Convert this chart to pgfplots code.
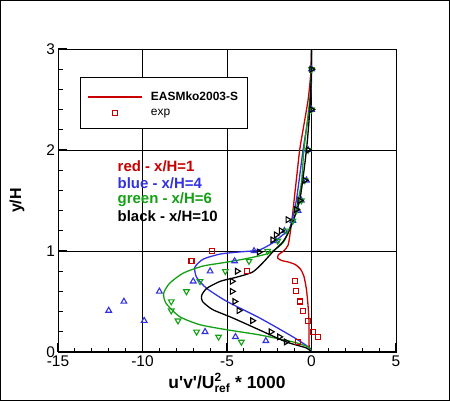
\documentclass[border=0pt]{standalone}
\usepackage{pgfplots}
\pgfplotsset{compat=1.18}
\usepackage{fontspec}
\setmainfont{Liberation Sans}
\definecolor{cred}{RGB}{200,0,0}
\definecolor{cblue}{RGB}{50,50,225}
\definecolor{cgreen}{RGB}{20,160,20}
\pgfplotsset{
  lineleg/.style={legend image code/.code={\draw[##1, draw=cred, line width=1.6bp, solid] (0bp,-2bp) -- (54bp,-2bp);}},
  markleg/.style={legend image code/.code={\draw[##1] plot coordinates {(27bp,-2.5bp)};}},
}
\begin{document}
\begin{tikzpicture}[x=1bp,y=1bp]
\useasboundingbox (0,0) rectangle (450,401);
\draw[line width=1bp] (0.5,0.5) rectangle (449.5,400.5);
\begin{axis}[
  at={(58bp,49bp)}, anchor=south west,
  scale only axis, width=338bp, height=303bp,
  xmin=-15, xmax=5, ymin=0, ymax=3,
  xtick={-15,-10,-5,0,5}, ytick={0,1,2,3},
  minor x tick num=4, minor y tick num=4,
  xtick pos=bottom, ytick pos=left,
  grid=major,
  major grid style={black, line width=0.8bp},
  axis line style={black, line width=0.8bp},
  tick style={black},
  major tick length=9bp, minor tick length=4.5bp,
  every major tick/.append style={line width=1.4bp},
  every minor tick/.append style={line width=0.9bp},
  /pgf/number format/assume math mode=true,
  tick label style={font=\fontsize{15.5}{18}\selectfont},
  xticklabel style={yshift=-0.5bp},
  yticklabel style={xshift=0.5bp},
  xlabel={\textbf{u\textquotesingle v\textquotesingle/U$_{\mbox{\fontsize{12}{13}\selectfont\bfseries ref}}^{\mbox{\fontsize{12}{13}\selectfont\bfseries 2}}$ * 1000}},
  ylabel={\textbf{y/H}},
  xlabel style={font=\fontsize{17.5}{20}\selectfont, at={(axis description cs:0.5,-0.102)}, anchor=center},
  ylabel style={font=\fontsize{16}{18}\selectfont, at={(axis description cs:-0.121,0.5)}, anchor=center},
  legend style={at={(axis description cs:0.065,0.908)}, anchor=north west,
    draw=black, line width=0.8bp, inner xsep=7bp, inner ysep=10.5bp,
    font=\fontsize{12}{14}\selectfont,
    nodes={inner xsep=2bp, inner ysep=1.5bp, text height=11.5bp, text depth=0.5bp},
    column sep=6bp, row sep=0pt},
  legend cell align=left,
]
% ---- model curves
\addplot[cred, line width=1.3bp, smooth, tension=0.4, lineleg] coordinates {
(0,0) (-0.12,0.03) (-0.15,0.1) (-0.15,0.3) (-0.2,0.45) (-0.3,0.62) (-0.45,0.75)
(-0.65,0.82) (-0.95,0.865) (-1.35,0.89) (-1.75,0.905) (-2.0,0.93) (-1.95,0.965)
(-1.65,1.0) (-1.38,1.06) (-1.22,1.23) (-1.1,1.39) (-1.0,1.55) (-0.9,1.7)
(-0.7,2.0) (-0.5,2.2) (-0.2,2.5) (-0.05,2.75) (0,3)};
\addlegendentry{\textbf{EASMko2003-S}}
\addplot[cblue, line width=1.3bp, smooth, tension=0.4, forget plot] coordinates {
(0,0) (-0.1,0.04) (-1.1,0.15) (-3.1,0.34) (-5.0,0.50) (-6.2,0.63) (-6.8,0.74)
(-6.9,0.84) (-6.4,0.92) (-5.4,0.97) (-4.3,0.99) (-3.1,1.01) (-2.3,1.08)
(-1.7,1.16) (-1.3,1.22) (-0.9,1.5) (-0.5,2.0) (-0.1,2.43) (0,2.7) (0,3)};
\addplot[cgreen, line width=1.3bp, smooth, tension=0.4, forget plot] coordinates {
(0,0) (-0.2,0.05) (-1.1,0.10) (-3.1,0.17) (-5.0,0.22) (-6.6,0.27) (-7.8,0.35)
(-8.6,0.48) (-8.75,0.58) (-8.4,0.68) (-7.6,0.78) (-6.45,0.85) (-5.0,0.89)
(-3.7,0.93) (-2.5,0.98) (-1.7,1.08) (-1.3,1.21) (-1.0,1.34) (-0.6,1.67)
(-0.45,2.0) (-0.1,2.5) (0,2.8) (0,3)};
\addplot[black, line width=1.3bp, smooth, tension=0.4, forget plot] coordinates {
(0,0) (-0.3,0.04) (-1.5,0.10) (-3.1,0.22) (-4.7,0.34) (-5.85,0.42) (-6.45,0.50)
(-6.5,0.56) (-6.2,0.63) (-5.4,0.70) (-4.45,0.74) (-3.5,0.79) (-2.9,0.88)
(-2.3,0.99) (-1.7,1.09) (-1.3,1.21) (-0.7,1.5) (-0.3,2.0) (-0.1,2.4) (0,2.8) (0,3)};
% ---- experiments
\addplot[cred, only marks, mark=square, mark size=2.5bp, mark options={line width=1.1bp, solid}, markleg] coordinates {
(-0.8,0.10) (0.4,0.15) (0.1,0.20) (-0.2,0.31) (-0.5,0.41) (-0.7,0.50) (-0.9,0.60)
(-1.0,0.70) (-3.8,0.80) (-7.1,0.90) (-5.9,1.00)};
\addlegendentry{exp}
\addplot[cblue, only marks, mark=triangle, mark size=3.3bp, mark options={line width=1.1bp, solid}, forget plot] coordinates {
(-2.7,0.11) (-4.5,0.15) (-6.3,0.20) (-9.9,0.31) (-12.0,0.41) (-11.1,0.50) (-9.0,0.60)
(-7.0,0.70) (-6.0,0.80) (-4.55,0.90) (-3.4,1.0) (-2.1,1.1) (-1.6,1.2) (-1.1,1.3)
(-0.8,1.4) (-0.6,1.5) (-0.3,1.7) (-0.2,2.0) (0,2.4) (0,2.8)};
\addplot[cgreen, only marks, mark=triangle, mark size=3.3bp, mark options={line width=1.1bp, solid, rotate=180}, forget plot] coordinates {
(-4.15,0.10) (-5.5,0.15) (-6.8,0.20) (-7.9,0.31) (-8.3,0.41) (-8.3,0.50) (-7.4,0.60)
(-6.6,0.70) (-5.1,0.80) (-3.7,0.90) (-2.6,1.0) (-2.0,1.1) (-1.5,1.2) (-1.1,1.3)
(-0.9,1.4) (-0.6,1.5) (-0.4,1.7) (-0.2,2.0) (0,2.4) (0,2.8)};
\addplot[black, only marks, mark=triangle, mark size=3.3bp, mark options={line width=1.1bp, solid, rotate=-90}, forget plot] coordinates {
(-1.5,0.10) (-1.9,0.15) (-2.4,0.20) (-3.5,0.31) (-4.3,0.41) (-4.55,0.50) (-4.7,0.60)
(-4.7,0.70) (-4.4,0.80) (-3.1,0.99) (-2.3,1.11) (-2.1,1.16) (-1.8,1.20) (-1.4,1.31)
(-0.9,1.41) (-0.7,1.50) (-0.4,1.70) (-0.2,2.0) (0,2.4) (0,2.8)};
% ---- annotations
\node[anchor=west, inner sep=0pt, text=cred, font=\bfseries\fontsize{15}{18}\selectfont] at (axis cs:-11.48,1.84) {red - x/H=1};
\node[anchor=west, inner sep=0pt, text=cblue, font=\bfseries\fontsize{15}{18}\selectfont] at (axis cs:-11.48,1.675) {blue - x/H=4};
\node[anchor=west, inner sep=0pt, text=cgreen, font=\bfseries\fontsize{15}{18}\selectfont] at (axis cs:-11.48,1.51) {green - x/H=6};
\node[anchor=west, inner sep=0pt, text=black, font=\bfseries\fontsize{15}{18}\selectfont] at (axis cs:-11.48,1.345) {black - x/H=10};
\draw[black, line width=2bp] (rel axis cs:0,1) -- (rel axis cs:0,0) -- (rel axis cs:1,0);
\end{axis}
\end{tikzpicture}
\end{document}
